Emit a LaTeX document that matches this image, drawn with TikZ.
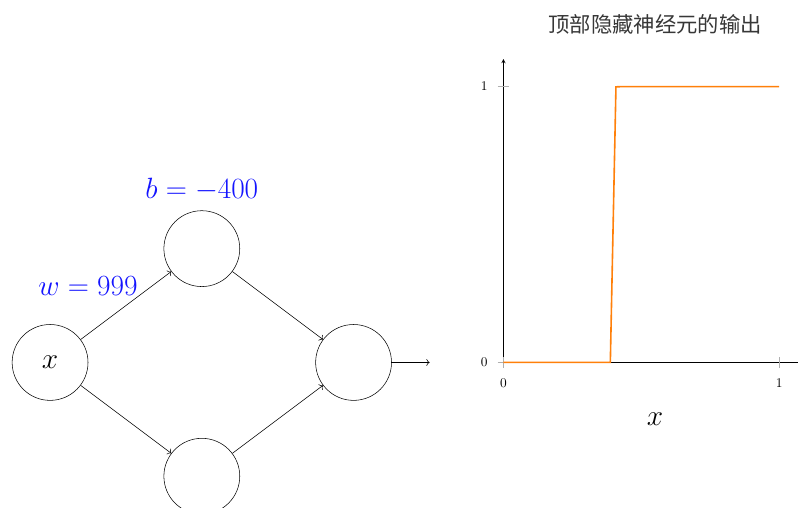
\documentclass[tikz,border=0pt]{standalone}
\usepackage{fix-cm}
\usepackage{fontspec}
\newfontfamily\cjk{Noto Sans CJK SC}
\usepackage{tikz}
\usetikzlibrary{arrows.meta,positioning,calc}
\definecolor{wbcol}{RGB}{20,20,255}
\definecolor{stepcol}{RGB}{255,128,10}
\definecolor{tickgray}{RGB}{175,175,175}
\definecolor{titlegray}{RGB}{55,55,55}
\newcommand{\bigmath}{\fontsize{22}{26}\selectfont}

\begin{document}
\begin{tikzpicture}[
  neuron/.style={draw, circle, minimum size=2cm, inner sep=0pt},
  param/.style={font=\bigmath, text=wbcol},
  ticklab/.style={font=\normalsize}
]
\useasboundingbox (-1.32,-3.835) rectangle (19.715,9.554);

% LEFT: network with one input, two hidden neurons, one output
\node[neuron, font=\bigmath] (x) at (0,0) {$x$};
\node[neuron, label={[param, label distance=0.12cm]above:$b=-400$}] (top) at (4,3) {};
\node[neuron] (bot) at (4,-3) {};
\node[neuron] (out) at (8,0) {};
\coordinate[right=1cm of out] (res);
\node[param] (wlab) at (1,2.02) {$w=999$};

\draw[->] (x) -- (top);
\draw[->] (x) -- (bot);
\draw[->] (top) -- (out);
\draw[->] (bot) -- (out);
\draw[->] (out) -- (res);

% RIGHT: output of the top hidden neuron
\begin{scope}[shift={(11.95,0)}, x=7.27cm, y=7.27cm]
  \draw[-stealth] (0,0) -- (1.1,0);
  \draw[-stealth] (0,0) -- (0,1.1);
  \foreach \t in {0,1} {
    \draw[tickgray] (\t,0) ++(0,-0.15cm) -- ++(0,0.3cm);
    \draw[tickgray] (0,\t) ++(-0.15cm,0) -- ++(0.3cm,0);
  }
  % sigmoid, clamped so exp stays small
  \draw[stepcol, line width=1.2pt, domain=0:1, samples=50, variable=\x]
    plot ({\x},{1/(1+exp(-max(-9,min(9,999*\x-400))))});
  \node[ticklab] (xt0) at (0,-0.074) {$0$};
  \node[ticklab] (xt1) at (1,-0.074) {$1$};
  \node[ticklab] (yt0) at (-0.07,0) {$0$};
  \node[ticklab] (yt1) at (-0.07,1) {$1$};
  \node[font=\bigmath] (xlab) at (0.55,-0.205) {$x$};
  \node[font=\cjk\fontsize{16}{19}\selectfont, text=titlegray] (title) at (0.55,1.227) {顶部隐藏神经元的输出};
\end{scope}
\end{tikzpicture}
\end{document}
